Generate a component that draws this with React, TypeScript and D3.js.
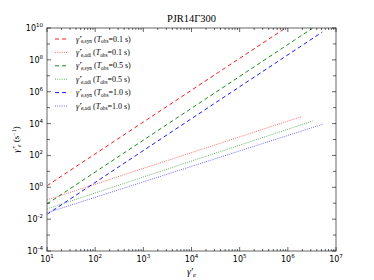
import React from "react";
import * as d3 from "d3";

const W = 374, H = 280;
const M = { left: 47, right: 336, top: 28, bottom: 251 };

const titleText = "PJR14Γ300";
const xTickExps = [1, 2, 3, 4, 5, 6, 7];
const yTickExps = [-4, -2, 0, 2, 4, 6, 8, 10];
const yMinorExps = [-3, -1, 1, 3, 5, 7, 9];

const seriesNames = ["syn01", "adi01", "syn05", "adi05", "syn10", "adi10"];
const seriesKinds = ["syn", "adi", "syn", "adi", "syn", "adi"];
const seriesTobs = ["0.1", "0.1", "0.5", "0.5", "1.0", "1.0"];
const seriesColors = ["#ff0000", "#ff0000", "#008000", "#008000", "#0000ff", "#0000ff"];
// [gamma'_e, rate] endpoints (straight lines in log-log)
const syn01 = [[10, 1.25], [1.9e6, 4.5e10]];
const adi01 = [[10, 0.16], [1.9e6, 2.7e4]];
const syn05 = [[10, 0.09], [3.3e6, 1.0e10]];
const adi05 = [[10, 0.044], [3.3e6, 1.45e4]];
const syn10 = [[10, 0.02], [5.2e6, 5.6e9]];
const adi10 = [[10, 0.025], [5.2e6, 8.9e3]];
const seriesData = [syn01, adi01, syn05, adi05, syn10, adi10];

const serif = "'Liberation Serif', 'DejaVu Serif', serif";
const sans = "'DejaVu Sans', sans-serif";

export default function App() {
  const x = d3.scaleLog().domain([10, 1e7]).range([M.left, M.right]);
  const y = d3.scaleLog().domain([1e-4, 1e10]).range([M.bottom, M.top]);
  const line = d3.line<number[]>().x(d => x(d[0])).y(d => y(d[1]));

  const xMinor: number[] = [];
  for (let e = 1; e < 7; e++) for (let k = 2; k <= 9; k++) xMinor.push(k * Math.pow(10, e));

  const axisColor = "#808080";

  return (
    <svg width={W} height={H} style={{ position: "absolute", left: 0, top: 0, background: "#fff" }}>
      <defs>
        <clipPath id="plotclip">
          <rect x={M.left} y={M.top} width={M.right - M.left} height={M.bottom - M.top} />
        </clipPath>
      </defs>
      <text x={(M.left + M.right) / 2} y={22} textAnchor="middle" fontFamily={serif} fontSize={10.5}>{titleText}</text>

      <g clipPath="url(#plotclip)">
        {seriesData.map((d, i) => (
          <path key={seriesNames[i]} d={line(d as number[][]) || ""} fill="none" stroke={seriesColors[i]}
            strokeWidth={1} strokeDasharray={seriesKinds[i] === "syn" ? "4,3" : "1,1.2"}
            opacity={seriesKinds[i] === "syn" ? 0.9 : 0.6} />
        ))}
      </g>

      {/* frame */}
      <rect x={M.left} y={M.top} width={M.right - M.left} height={M.bottom - M.top} fill="none" stroke={axisColor} strokeWidth={1.2} />

      {/* x ticks */}
      {xTickExps.map(e => {
        const v = Math.pow(10, e), px = x(v);
        return (
          <g key={"xt" + e}>
            <line x1={px} x2={px} y1={M.bottom} y2={M.bottom - 4} stroke="#000" strokeWidth={0.6} />
            <line x1={px} x2={px} y1={M.top} y2={M.top + 4} stroke="#000" strokeWidth={0.6} />
            <text x={px} y={262} textAnchor="middle" fontFamily={sans} fontSize={8}>
              10<tspan dy={-4} fontSize={5.5}>{e}</tspan>
            </text>
          </g>
        );
      })}
      {xMinor.map(v => (
        <g key={"xm" + v}>
          <line x1={x(v)} x2={x(v)} y1={M.bottom} y2={M.bottom - 2} stroke="#000" strokeWidth={0.6} />
          <line x1={x(v)} x2={x(v)} y1={M.top} y2={M.top + 2} stroke="#000" strokeWidth={0.6} />
        </g>
      ))}

      {/* y ticks */}
      {yTickExps.map(e => {
        const v = Math.pow(10, e), py = y(v);
        return (
          <g key={"yt" + e}>
            <line x1={M.left} x2={M.left + 4} y1={py} y2={py} stroke="#000" strokeWidth={0.6} />
            <line x1={M.right} x2={M.right - 4} y1={py} y2={py} stroke="#000" strokeWidth={0.6} />
            <text x={43} y={py + 3} textAnchor="end" fontFamily={sans} fontSize={8}>
              10<tspan dy={-4} fontSize={5.5}>{e}</tspan>
            </text>
          </g>
        );
      })}
      {yMinorExps.map(e => {
        const py = y(Math.pow(10, e));
        return (
          <g key={"ym" + e}>
            <line x1={M.left} x2={M.left + 3} y1={py} y2={py} stroke="#000" strokeWidth={0.6} />
            <line x1={M.right} x2={M.right - 3} y1={py} y2={py} stroke="#000" strokeWidth={0.6} />
          </g>
        );
      })}

      {/* axis labels */}
      <text x={(M.left + M.right) / 2} y={275} textAnchor="middle" fontFamily={serif} fontSize={10} fontStyle="italic">
        γ′<tspan dy={2} fontSize={7}>e</tspan>
      </text>
      <text transform={`translate(19,${(M.top + M.bottom) / 2}) rotate(-90)`} textAnchor="middle" fontFamily={serif} fontSize={9}>
        <tspan fontStyle="italic">γ̇′</tspan><tspan dy={2} fontSize={6} fontStyle="italic">e</tspan>
        <tspan dy={-2}> (s</tspan><tspan dy={-3} fontSize={6}>−1</tspan><tspan dy={3}>)</tspan>
      </text>

      {/* legend */}
      {seriesNames.map((n, i) => {
        const ly = 39 + i * 13.4;
        return (
          <g key={"lg" + n}>
            <line x1={55} x2={68} y1={ly} y2={ly} stroke={seriesColors[i]} strokeWidth={1}
              strokeDasharray={seriesKinds[i] === "syn" ? "4,3" : "1,1.2"} opacity={seriesKinds[i] === "syn" ? 0.9 : 0.6} />
            <text x={76} y={ly + 2.5} fontFamily={serif} fontSize={8}>
              <tspan fontStyle="italic">γ̇′</tspan>
              <tspan dy={1.8} fontSize={5.3}>e,{seriesKinds[i]}</tspan>
              <tspan dy={-1.8}> (</tspan><tspan fontStyle="italic">T</tspan>
              <tspan dy={1.8} fontSize={5.3}>obs</tspan>
              <tspan dy={-1.8}>=</tspan><tspan>{seriesTobs[i]} s)</tspan>
            </text>
          </g>
        );
      })}
    </svg>
  );
}
